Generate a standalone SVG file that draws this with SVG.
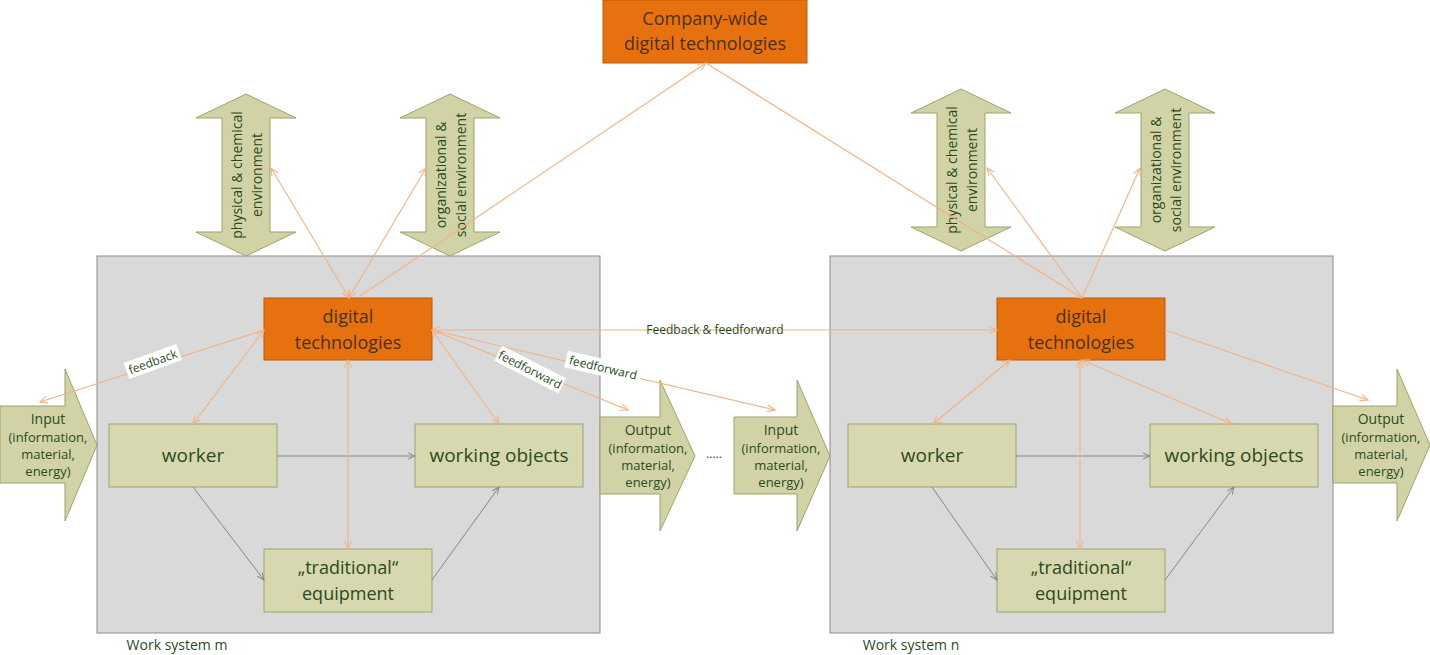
<svg xmlns="http://www.w3.org/2000/svg" width="1430" height="655" viewBox="0 0 1430 655">
<defs>
<marker id="oa" viewBox="0 0 10 10" refX="9" refY="5" markerWidth="8" markerHeight="8" orient="auto-start-reverse"><path d="M0,1 L9,5 L0,9" fill="none" stroke="#F4B183" stroke-width="1.2"/></marker>
<marker id="ga" viewBox="0 0 10 10" refX="9" refY="5" markerWidth="8" markerHeight="8" orient="auto-start-reverse"><path d="M0,1 L9,5 L0,9" fill="none" stroke="#7f8a8a" stroke-width="1.2"/></marker>
</defs>
<style>
text{font-family:"Open Sans","Liberation Sans",sans-serif;fill:#2c4a1e;text-anchor:middle}
.sys{fill:#d9d9d9;stroke:#8c8c8c;stroke-width:1}
.or{fill:#E8710F;stroke:#b75a0c;stroke-width:1}
.or+text,.ot{fill:#4a3210;font-size:18px}
.gb{fill:#d7d8b0;stroke:#9da36e;stroke-width:1}
.bt{font-size:19px}
.ar{fill:#d1d3a6;stroke:#9da36e;stroke-width:1}
.st{font-size:14px}
.sm{font-size:13px}
.oc{stroke:#F4B183;stroke-width:1.1;fill:none}
.gc{stroke:#7f8a8a;stroke-width:1;fill:none}
.lb{font-size:12px}
</style>
<g id="system-m"><rect class="sys" x="97" y="256" width="503" height="377"/><text x="177" y="650" class="st" style="font-size:14px">Work system m</text></g>
<g id="system-n"><rect class="sys" x="830" y="256" width="503" height="377"/><text x="911" y="650" style="font-size:14px">Work system n</text></g>
<g id="company"><rect class="or" x="603" y="0" width="204" height="63"/><text class="ot" x="705" y="25">Company-wide</text><text class="ot" x="705" y="50">digital technologies</text></g>
<g id="env-phys-m"><path class="ar" d="M246,94 L296,118 L270,118 L270,232 L296,232 L246,256 L196,232 L222,232 L222,118 L196,118 Z"/><text class="st" transform="translate(246,175) rotate(-90)"><tspan x="0" y="-4">physical &amp; chemical</tspan><tspan x="0" y="16">environment</tspan></text></g>
<g id="env-org-m"><path class="ar" d="M450,94 L500,118 L474,118 L474,232 L500,232 L450,256 L400,232 L426,232 L426,118 L400,118 Z"/><text class="st" transform="translate(450,175) rotate(-90)"><tspan x="0" y="-4">organizational &amp;</tspan><tspan x="0" y="16">social  environment</tspan></text></g>
<g id="env-phys-n"><path class="ar" d="M961,89 L1011,113 L985,113 L985,227 L1011,227 L961,251 L911,227 L937,227 L937,113 L911,113 Z"/><text class="st" transform="translate(961,170) rotate(-90)"><tspan x="0" y="-4">physical &amp; chemical</tspan><tspan x="0" y="16">environment</tspan></text></g>
<g id="env-org-n"><path class="ar" d="M1165,89 L1215,113 L1189,113 L1189,227 L1215,227 L1165,251 L1115,227 L1141,227 L1141,113 L1115,113 Z"/><text class="st" transform="translate(1165,170) rotate(-90)"><tspan x="0" y="-4">organizational &amp;</tspan><tspan x="0" y="16">social  environment</tspan></text></g>
<g id="input-m"><path class="ar" d="M0,406 L65,406 L65,369 L97,445 L65,521 L65,483 L0,483 Z"/><text class="st" x="48" y="424">Input</text><text class="sm" x="48" y="442">(information,</text><text class="sm" x="48" y="459">material,</text><text class="sm" x="48" y="476">energy)</text></g>
<g id="output-m"><path class="ar" d="M600,417 L660,417 L660,380 L695,456 L660,531 L660,494 L600,494 Z"/><text class="st" x="648" y="435">Output</text><text class="sm" x="648" y="453">(information,</text><text class="sm" x="648" y="470">material,</text><text class="sm" x="648" y="487">energy)</text></g>
<g id="input-n"><path class="ar" d="M734,417 L797,417 L797,380 L830,456 L797,531 L797,494 L734,494 Z"/><text class="st" x="781" y="435">Input</text><text class="sm" x="781" y="453">(information,</text><text class="sm" x="781" y="470">material,</text><text class="sm" x="781" y="487">energy)</text></g>
<g id="output-n"><path class="ar" d="M1333,406 L1397,406 L1397,369 L1430,445 L1397,521 L1397,483 L1333,483 Z"/><text class="st" x="1381" y="424">Output</text><text class="sm" x="1381" y="442">(information,</text><text class="sm" x="1381" y="459">material,</text><text class="sm" x="1381" y="476">energy)</text></g>
<g id="dt-m"><rect class="or" x="264" y="298" width="168" height="62"/><text class="ot" x="348" y="323">digital</text><text class="ot" x="348" y="349">technologies</text></g>
<g id="worker-m"><rect class="gb" x="109" y="424" width="168" height="63"/><text class="bt" x="193" y="462">worker</text></g>
<g id="wo-m"><rect class="gb" x="415" y="424" width="168" height="63"/><text class="bt" x="499" y="462">working objects</text></g>
<g id="eq-m"><rect class="gb" x="264" y="549" width="168" height="63"/><text class="ot" style="fill:#2c4a1e" x="348" y="574">„traditional“</text><text class="ot" style="fill:#2c4a1e" x="348" y="600">equipment</text></g>
<g id="dt-n"><rect class="or" x="997" y="298" width="168" height="62"/><text class="ot" x="1081" y="323">digital</text><text class="ot" x="1081" y="349">technologies</text></g>
<g id="worker-n"><rect class="gb" x="848" y="424" width="168" height="63"/><text class="bt" x="932" y="462">worker</text></g>
<g id="wo-n"><rect class="gb" x="1150" y="424" width="168" height="63"/><text class="bt" x="1234" y="462">working objects</text></g>
<g id="eq-n"><rect class="gb" x="997" y="549" width="168" height="63"/><text class="ot" style="fill:#2c4a1e" x="1081" y="574">„traditional“</text><text class="ot" style="fill:#2c4a1e" x="1081" y="600">equipment</text></g>
<g id="connectors">
<line class="gc" x1="277" y1="456" x2="415" y2="456" marker-end="url(#ga)"/>
<line class="gc" x1="193" y1="487" x2="264" y2="580" marker-end="url(#ga)"/>
<line class="gc" x1="432" y1="580" x2="499" y2="487" marker-end="url(#ga)"/>
<line class="gc" x1="1016" y1="456" x2="1150" y2="456" marker-end="url(#ga)"/>
<line class="gc" x1="932" y1="487" x2="997" y2="580" marker-end="url(#ga)"/>
<line class="gc" x1="1165" y1="580" x2="1234" y2="487" marker-end="url(#ga)"/>
<line class="oc" x1="349" y1="298" x2="271" y2="168" marker-start="url(#oa)" marker-end="url(#oa)"/>
<line class="oc" x1="349" y1="298" x2="426" y2="168" marker-start="url(#oa)" marker-end="url(#oa)"/>
<line class="oc" x1="360" y1="296" x2="706" y2="63" marker-end="url(#oa)"/>
<line class="oc" x1="706" y1="63" x2="1082" y2="298" marker-end="url(#oa)"/>
<line class="oc" x1="1082" y1="298" x2="987" y2="168" marker-end="url(#oa)"/>
<line class="oc" x1="1082" y1="298" x2="1140" y2="168" marker-end="url(#oa)"/>
<line class="oc" x1="264" y1="330" x2="40" y2="402" marker-end="url(#oa)"/>
<line class="oc" x1="264" y1="330" x2="193" y2="424" marker-start="url(#oa)" marker-end="url(#oa)"/>
<line class="oc" x1="432" y1="330" x2="499" y2="424" marker-start="url(#oa)" marker-end="url(#oa)"/>
<line class="oc" x1="348" y1="360" x2="348" y2="549" marker-start="url(#oa)" marker-end="url(#oa)"/>
<line class="oc" x1="432" y1="330" x2="628" y2="410" marker-end="url(#oa)"/>
<line class="oc" x1="432" y1="330" x2="775" y2="410" marker-end="url(#oa)"/>
<line class="oc" x1="432" y1="330" x2="997" y2="330" marker-start="url(#oa)" marker-end="url(#oa)"/>
<line class="oc" x1="1010" y1="360" x2="933" y2="424" marker-start="url(#oa)" marker-end="url(#oa)"/>
<line class="oc" x1="1082" y1="360" x2="1232" y2="424" marker-start="url(#oa)" marker-end="url(#oa)"/>
<line class="oc" x1="1080" y1="360" x2="1080" y2="549" marker-start="url(#oa)" marker-end="url(#oa)"/>
<line class="oc" x1="1165" y1="330" x2="1368" y2="400" marker-end="url(#oa)"/>
<g transform="translate(153,362) rotate(-20)"><rect x="-28" y="-9" width="56" height="17" fill="#fff"/><text class="lb" x="0" y="4">feedback</text></g>
<g transform="translate(530,370) rotate(27)"><rect x="-36" y="-9" width="72" height="17" fill="#fff"/><text class="lb" x="0" y="4">feedforward</text></g>
<g transform="translate(603,368) rotate(13)"><rect x="-38" y="-9" width="76" height="17" fill="#fff"/><text class="lb" x="0" y="4">feedforward</text></g>
<rect x="640" y="321" width="150" height="17" fill="#d9d9d9" opacity="0"/>
<text class="lb" x="715" y="334">Feedback &amp; feedforward</text>
<text class="lb" x="714" y="458">.....</text>
</g>
</svg>
